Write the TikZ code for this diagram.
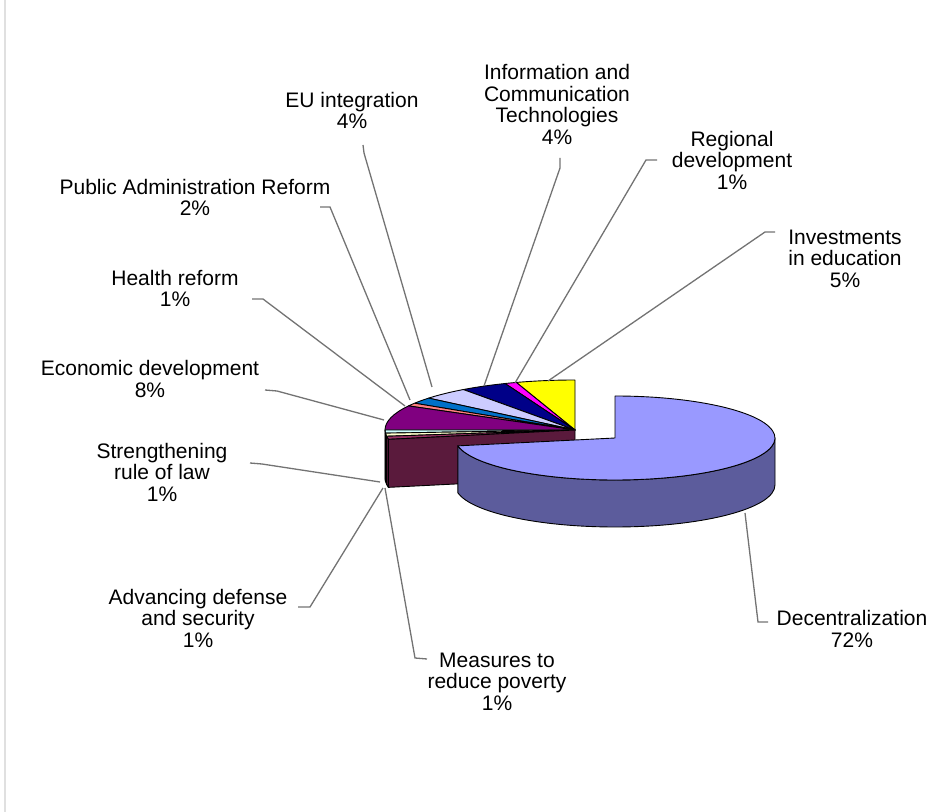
\documentclass[tikz,border=0pt]{standalone}
\usepackage{fontspec}
\setmainfont{Liberation Sans}
\definecolor{decen}{HTML}{9999FF}
\definecolor{decenside}{HTML}{5C5C9C}
\definecolor{plum}{HTML}{993366}
\definecolor{plumface}{HTML}{5A1A3C}
\definecolor{ivory}{HTML}{FFFFCC}
\definecolor{lturq}{HTML}{CCFFFF}
\definecolor{econ}{HTML}{800080}
\definecolor{coral}{HTML}{FF8080}
\definecolor{ocean}{HTML}{0070C8}
\definecolor{iceblue}{HTML}{CCCCFF}
\definecolor{navy}{HTML}{000088}
\definecolor{pink}{HTML}{FF00FF}
\definecolor{yell}{HTML}{FFFF00}
\begin{document}
\begin{tikzpicture}[x=1pt,y=1pt,
    label node/.style={align=center,inner sep=0pt,font=\fontsize{21}{21.5}\selectfont},
    leader/.style={draw=black!55,line width=1.3pt},
    slice/.style={draw=black,line width=0.9pt,line join=round}]
    \useasboundingbox (0,0) rectangle (930,812);
    \draw[black!12,line width=1.2pt] (5,0) -- (5,812);

    % rest of the pie
    \coordinate (lc) at (575,382);
    \draw[slice,fill=yell] (lc) -- ++(90:190 and 50) arc[start angle=90,end angle=108,x radius=190,y radius=50] -- cycle;
    \draw[slice,fill=pink] (lc) -- ++(108:190 and 50) arc[start angle=108,end angle=111.6,x radius=190,y radius=50] -- cycle;
    \draw[slice,fill=navy] (lc) -- ++(111.6:190 and 50) arc[start angle=111.6,end angle=126,x radius=190,y radius=50] -- cycle;
    \draw[slice,fill=iceblue] (lc) -- ++(126:190 and 50) arc[start angle=126,end angle=140.4,x radius=190,y radius=50] -- cycle;
    \draw[slice,fill=ocean] (lc) -- ++(140.4:190 and 50) arc[start angle=140.4,end angle=147.6,x radius=190,y radius=50] -- cycle;
    \draw[slice,fill=coral] (lc) -- ++(147.6:190 and 50) arc[start angle=147.6,end angle=151.2,x radius=190,y radius=50] -- cycle;
    \draw[slice,fill=econ] (lc) -- ++(151.2:190 and 50) arc[start angle=151.2,end angle=180,x radius=190,y radius=50] -- cycle;
    \draw[slice,fill=lturq] (lc) -- ++(180:190 and 50) arc[start angle=180,end angle=183.6,x radius=190,y radius=50] -- cycle;
    \draw[slice,fill=ivory] (lc) -- ++(183.6:190 and 50) arc[start angle=183.6,end angle=187.2,x radius=190,y radius=50] -- cycle;
    \draw[slice,fill=plum] (lc) -- ++(187.2:190 and 50) arc[start angle=187.2,end angle=190.8,x radius=190,y radius=50] -- cycle;
    % outer wall and cut face
    \draw[slice,fill=lturq!60!black] (lc) ++(180:190 and 50) arc[start angle=180,end angle=183.6,x radius=190,y radius=50] -- ++(0,-48) arc[start angle=183.6,end angle=180,x radius=190,y radius=50] -- cycle;
    \draw[slice,fill=ivory!60!black] (lc) ++(183.6:190 and 50) arc[start angle=183.6,end angle=187.2,x radius=190,y radius=50] -- ++(0,-48) arc[start angle=187.2,end angle=183.6,x radius=190,y radius=50] -- cycle;
    \draw[slice,fill=plumface] (lc) ++(187.2:190 and 50) arc[start angle=187.2,end angle=190.8,x radius=190,y radius=50] -- ++(0,-48) arc[start angle=190.8,end angle=187.2,x radius=190,y radius=50] -- cycle;
    \draw[slice,fill=plumface] (lc) -- ++(190.8:190 and 50) -- ++(0,-48) -- ([yshift=-48pt]lc) -- cycle;

    % exploded slice
    \coordinate (dc) at (615,374);
    \draw[slice,fill=decenside] (dc) ++(190.8:160 and 42) arc[start angle=190.8,end angle=360,x radius=160,y radius=42] -- ++(0,-47) arc[start angle=360,end angle=190.8,x radius=160,y radius=42] -- cycle;
    \draw[slice,fill=decen] (dc) -- ++(-169.2:160 and 42) arc[start angle=-169.2,end angle=90,x radius=160,y radius=42] -- cycle;

    % labels
    \node[label node] (eu) at (352,701.5) {EU integration\\4\%};
    \node[label node] (ict) at (557,707.5) {Information and\\Communication\\Technologies\\4\%};
    \node[label node] (pub) at (195,614.5) {Public Administration Reform\\2\%};
    \node[label node] (reg) at (732,652) {Regional\\development\\1\%};
    \node[label node] (inv) at (845,553.5) {Investments\\in education\\5\%};
    \node[label node] (health) at (175,523.5) {Health reform\\1\%};
    \node[label node] (econ) at (150,433) {Economic development\\8\%};
    \node[label node] (law) at (162,340) {Strengthening\\rule of law\\1\%};
    \node[label node] (def) at (198,194) {Advancing defense\\and security\\1\%};
    \node[label node] (pov) at (497,130.3) {Measures to\\reduce poverty\\1\%};
    \node[label node] (dec) at (852,183) {Decentralization\\72\%};

    % leader lines
    \coordinate (eu a) at (363,667);   \coordinate (eu b) at (364,659);   \coordinate (eu tip) at (432,425);
    \coordinate (ict a) at (560,654);  \coordinate (ict b) at (560,644);  \coordinate (ict tip) at (484,426);
    \coordinate (pub a) at (320,605);  \coordinate (pub b) at (330,605);  \coordinate (pub tip) at (410,412);
    \coordinate (reg a) at (657,652);  \coordinate (reg b) at (646,652);  \coordinate (reg tip) at (515,429);
    \coordinate (inv a) at (775,580);  \coordinate (inv b) at (765,580);  \coordinate (inv tip) at (548,431);
    \coordinate (health a) at (252,513); \coordinate (health b) at (263,513); \coordinate (health tip) at (405,406);
    \coordinate (econ a) at (265,422); \coordinate (econ b) at (277,421); \coordinate (econ tip) at (384,392);
    \coordinate (law a) at (250,349);  \coordinate (law b) at (262,348);  \coordinate (law tip) at (380,330);
    \coordinate (def a) at (298,205);  \coordinate (def b) at (310,205);  \coordinate (def tip) at (383,324);
    \coordinate (pov a) at (427,153);  \coordinate (pov b) at (415,154);  \coordinate (pov tip) at (385,324);
    \coordinate (dec a) at (768,190);  \coordinate (dec b) at (758,190);  \coordinate (dec tip) at (745,299);

    \draw[leader] (eu a) -- (eu b) -- (eu tip);
    \draw[leader] (ict a) -- (ict b) -- (ict tip);
    \draw[leader] (pub a) -- (pub b) -- (pub tip);
    \draw[leader] (reg a) -- (reg b) -- (reg tip);
    \draw[leader] (inv a) -- (inv b) -- (inv tip);
    \draw[leader] (health a) -- (health b) -- (health tip);
    \draw[leader] (econ a) -- (econ b) -- (econ tip);
    \draw[leader] (law a) -- (law b) -- (law tip);
    \draw[leader] (def a) -- (def b) -- (def tip);
    \draw[leader] (pov a) -- (pov b) -- (pov tip);
    \draw[leader] (dec a) -- (dec b) -- (dec tip);
\end{tikzpicture}
\end{document}
